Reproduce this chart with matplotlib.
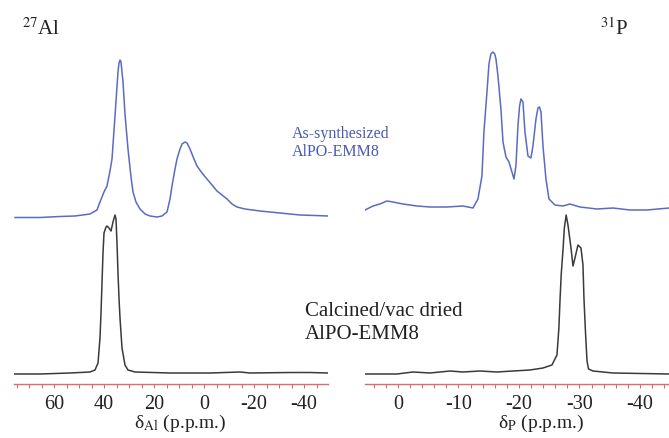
import numpy as np
import matplotlib.pyplot as plt
from matplotlib.ticker import MultipleLocator

plt.rcParams['font.family'] = ['Liberation Serif', 'DejaVu Serif']
plt.rcParams['mathtext.fontset'] = 'stix'
plt.rcParams['axes.unicode_minus'] = False

# 27Al spectra (chemical shift in ppm, intensity in a.u.)
al_as_ppm = [75.6, 65.6, 57.6, 51.6, 45.6, 42.8, 41.6, 40.0, 38.8, 37.6, 36.8, 35.6, 34.4,
             34.0, 33.6, 33.2, 32.4, 31.6, 30.4, 29.2, 28.4, 27.2, 25.6, 23.6, 21.6, 18.8, 16.8,
             14.8, 13.6, 12.8, 11.6, 10.8, 9.6, 8.8, 7.6, 6.8, 5.6, 4.0, 2.8, 0.8, -1.2,
             -3.2, -5.2, -7.2, -9.2, -11.2, -13.2, -16.4, -22.4, -30.4, -38.4, -44.4, -49.6]
al_as_int = [-0.5, -0.5, 0.5, 1, 3, 7, 15, 25, 31, 46, 58, 101, 145,
             154, 157, 155, 135, 103, 68, 40, 25, 15, 8, 3, 1, 0, 1,
             5, 18, 31, 48, 58, 68, 73, 75, 74, 68, 58, 51, 44, 38,
             32, 26, 22, 18, 13, 10, 8, 6, 4, 2, 1.5, 1]

al_calc_ppm = [76.0, 65.6, 53.6, 45.6, 43.6, 42.4, 41.6, 41.2, 40.8, 40.4, 40.0, 39.2, 38.8,
               38.0, 37.2, 36.4, 35.6, 35.2, 34.8, 34.4, 34.0, 33.6, 32.8, 31.6, 30.4, 27.6,
               13.6, -2.4, -14.4, -18.4, -34.4, -42.4, -49.6]
al_calc_int = [-1, -1, 0, 1, 3, 10, 35, 60, 90, 120, 140, 146, 147,
               145, 142, 151, 158, 154, 130, 100, 75, 55, 25, 8, 3, 1,
               0, 0, 1, 0, 0.5, 0.5, 0]

# 31P spectra
p_as_ppm = [5.45, 4.13, 2.98, 1.82, 0.83, -0.83, -3.14, -5.29, -8.10, -10.74, -12.40, -13.22,
            -13.88, -14.21, -14.71, -15.04, -15.35, -15.70, -16.00, -16.20, -16.53, -17.02,
            -17.36, -17.85, -18.35, -18.84, -19.17, -19.50, -19.83, -20.10, -20.33, -20.66,
            -20.99, -21.49, -21.98, -22.31, -22.81, -23.14, -23.40, -23.64, -23.97, -24.46,
            -24.96, -25.95, -27.27, -28.43, -30.08, -32.89, -35.54, -38.35, -41.16, -44.8]
p_as_int = [-1, 3, 5, 8, 7, 5, 3, 2, 2, 3, 1, 10,
            33, 77, 117, 145, 155, 157, 155, 150, 133, 100,
            67, 52, 47, 37, 30, 43, 83, 103, 110, 107,
            77, 53, 51, 63, 90, 101, 102, 97, 63, 30,
            10, 4, 3, 5, 2, 0, 1, -1, -1, 1]

p_calc_ppm = [5.45, 0.17, -2.48, -5.29, -8.60, -10.74, -13.55, -16.36, -19.01, -21.82, -23.97,
              -25.45, -26.28, -26.6, -26.8, -27.0, -27.3, -27.5, -27.8, -28.10, -28.60, -28.93,
              -29.26, -29.75, -30.25, -30.58, -30.74, -31.0, -31.25, -31.5, -32.23, -35.54, -44.8]
p_calc_int = [-1, -1, 1, 0, 2, 1, 2, 1, 2, 3, 5,
              8, 18, 45, 75, 100, 125, 145, 158, 148, 125, 107,
              115, 128, 125, 108, 75, 40, 12, 4, 2, 0, -1]

blue = '#5a6bc2'
dark = '#3a3a3a'
red = '#e06a6a'
W, H = 669, 439

fig = plt.figure(figsize=(6.69, 4.39), dpi=100)
ax1 = fig.add_axes([14 / W, 54 / H, 314 / W, 345 / H])
ax2 = fig.add_axes([365 / W, 54 / H, 304 / W, 345 / H])

# left panel: 27Al
ax1.plot(al_as_ppm, np.array(al_as_int) + 167, color=blue, lw=1.1)
ax1.plot(al_calc_ppm, np.array(al_calc_int) + 11, color=dark, lw=1.1)
ax1.set_xlim(76, -49.6)
ax1.xaxis.set_major_locator(MultipleLocator(20))
ax1.xaxis.set_minor_locator(MultipleLocator(5))

# right panel: 31P
ax2.plot(p_as_ppm, np.array(p_as_int) + 175, color=blue, lw=1.1)
ax2.plot(p_calc_ppm, np.array(p_calc_int) + 11, color=dark, lw=1.1)
ax2.set_xlim(5.45, -44.8)
ax2.xaxis.set_major_locator(MultipleLocator(10))
ax2.xaxis.set_minor_locator(MultipleLocator(2))

for ax in (ax1, ax2):
    ax.set_ylim(0, 345)
    ax.set_yticks([])
    for s in ('top', 'left', 'right'):
        ax.spines[s].set_visible(False)
    ax.spines['bottom'].set_color(red)
    ax.spines['bottom'].set_linewidth(1.0)
    ax.tick_params(axis='x', which='both', direction='out', color=red, length=3,
                   width=0.8, labelsize=14.5, labelcolor='#222222', pad=4)
    ax.patch.set_alpha(0)

ax1.set_xlabel(r'δ$_{\mathrm{Al}}$ (p.p.m.)', fontsize=14, color='#222222')
ax1.xaxis.set_label_coords(0.53, -0.082)
ax2.set_xlabel(r'δ$_{\mathrm{P}}$ (p.p.m.)', fontsize=14, color='#222222')
ax2.xaxis.set_label_coords(0.58, -0.082)

fig.text(22 / W, 1 - 35 / H, r'$^{27}$Al', fontsize=15, color='#222222', va='baseline')
fig.text(600 / W, 1 - 35 / H, r'$^{31}$P', fontsize=15, color='#222222', va='baseline')

fig.text(292 / W, 1 - 126 / H, 'As-synthesized\nAlPO-EMM8', fontsize=11.5, color='#4a5ab0',
         va='top', linespacing=1.15)
fig.text(305 / W, 1 - 302 / H, 'Calcined/vac dried\nAlPO-EMM8', fontsize=15, color='#222222',
         va='top', linespacing=1.3)

fig.savefig('out.png', dpi=100)
